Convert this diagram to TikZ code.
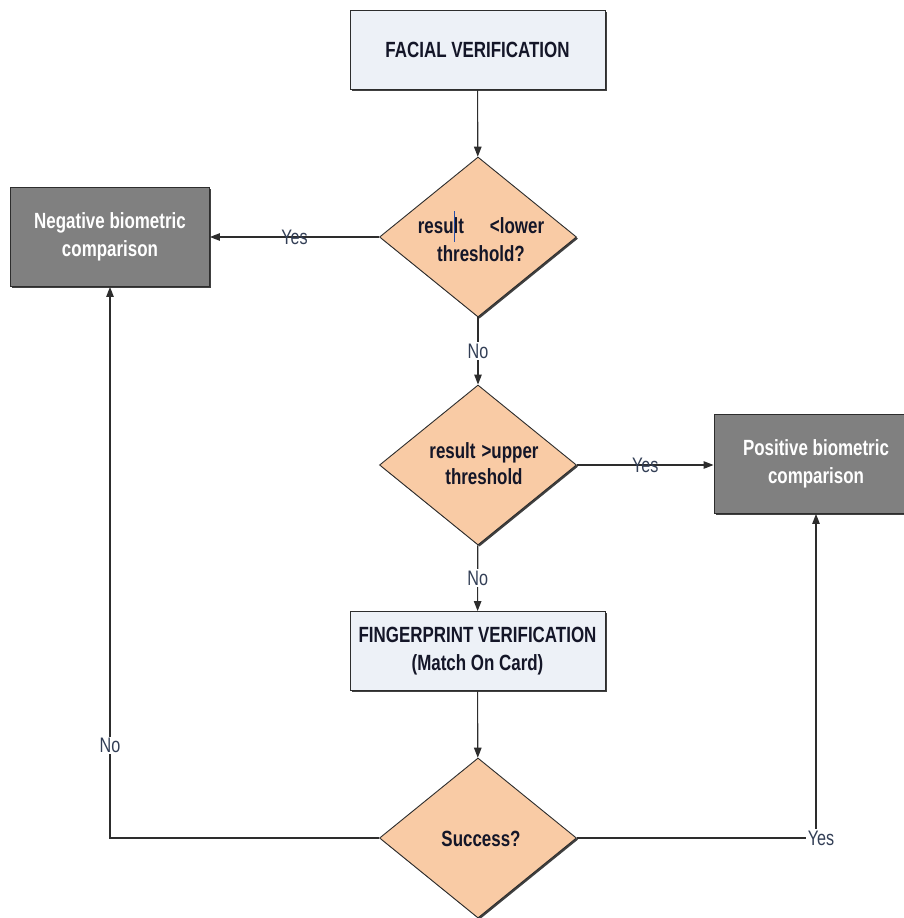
\documentclass[tikz,border=0pt]{standalone}
\usepackage{fontspec}
\setmainfont{Liberation Sans}[FakeStretch=0.77]
\usetikzlibrary{shapes.geometric,arrows.meta,shadows}

\definecolor{procfill}{RGB}{237,241,247}
\definecolor{termfill}{RGB}{128,128,128}
\definecolor{decfill}{RGB}{249,203,165}
\definecolor{edge}{RGB}{45,45,45}
\definecolor{textdark}{RGB}{20,22,40}
\definecolor{lblcol}{RGB}{50,62,85}
\definecolor{cursorblue}{RGB}{40,80,170}

\begin{document}
\begin{tikzpicture}[x=1pt,y=-1pt,
  boxfont/.style={font=\fontsize{22}{28}\selectfont\bfseries},
  shadowed/.style={drop shadow={shadow xshift=1.6pt,shadow yshift=-1.6pt,fill=black!75,opacity=1}},
  procbox/.style={draw=edge,line width=0.9pt,fill=procfill,shadowed,
    minimum width=255pt,minimum height=79pt,boxfont,text=textdark,align=center,inner sep=0pt},
  termbox/.style={draw=edge,line width=0.9pt,fill=termfill,shadowed,
    minimum height=99pt,boxfont,text=white,align=center,inner sep=0pt},
  decbox/.style={diamond,draw=edge,line width=0.9pt,fill=decfill,shadowed,
    minimum width=197pt,minimum height=160pt,inner sep=0pt},
  dectext/.style={boxfont,text=textdark,align=center,inner sep=0pt},
  lbl/.style={font=\fontsize{21}{24}\selectfont,text=lblcol,inner sep=1.5pt},
  lblgap/.style={lbl,fill=white},
  flow/.style={draw=edge,line width=1.1pt},
  arr/.style={flow,-{Triangle[length=10pt,width=7.5pt]}}]

\useasboundingbox (0,0) rectangle (903,918);
\fill[white] (0,0) rectangle (903,918);

% process boxes
\node[procbox] (fv) at (477.5,49.5) {FACIAL VERIFICATION};
\node[procbox] (fp) at (477.5,651) {FINGERPRINT VERIFICATION\\(Match On Card)};

% outcome boxes
\node[termbox,minimum width=199pt] (neg) at (110,237) {Negative biometric\\comparison};
\node[termbox,minimum width=204pt] (pos) at (816,464) {Positive biometric\\comparison};

% decisions
\node[decbox] (d1) at (478,237) {};
\node[dectext] (d1t) at (481,240) {result\hspace{26pt}<lower\\threshold?};
\draw[cursorblue,line width=1pt] (454,211) -- (454,242);

\node[decbox] (d2) at (478,465) {};
\node[dectext,font=\fontsize{22}{26}\selectfont\bfseries] (d2t) at (484,464) {result\hspace{6pt}>upper\\threshold};

\node[decbox] (d3) at (478,838) {};
\node[dectext] (d3t) at (481,839) {Success?};

% connectors
\draw[arr] (fv) -- (d1);
\draw[arr] (d1) -- node[lbl]{Yes} (neg);
\draw[arr] (d1) -- node[lblgap]{No} (d2);
\draw[arr] (d2.east) -- node[lbl]{Yes} (d2.east -| pos.west);
\draw[arr] (d2) -- node[lblgap]{No} (fp);
\draw[arr] (fp) -- (d3);
\draw[arr] (d3.west) -| node[lblgap,pos=0.584]{No} (neg.south);
\node[lbl] (yesr) at (821,838) {Yes};
\draw[flow] (d3.east) -- (yesr.west);
\draw[arr] (yesr.north -| pos.south) -- (pos.south);
\end{tikzpicture}
\end{document}
